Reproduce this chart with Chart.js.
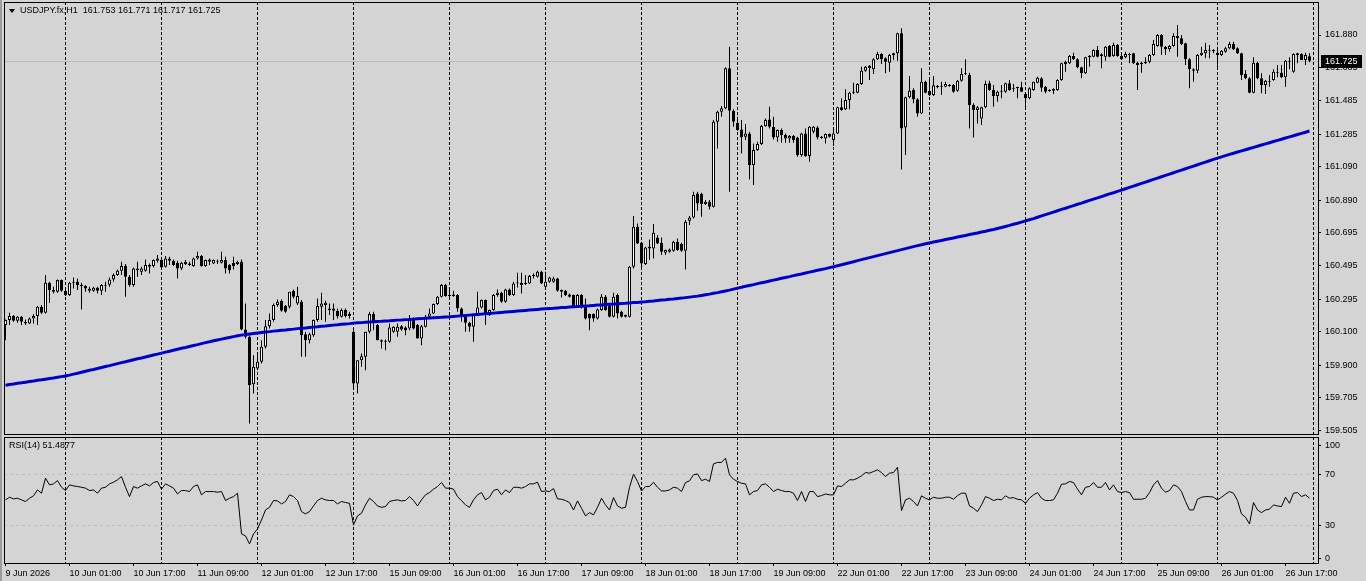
<!DOCTYPE html>
<html>
<head>
<meta charset="utf-8">
<script src="https://cdn.jsdelivr.net/npm/chart.js@4.4.1/dist/chart.umd.min.js"></script>
<style>
html, body { margin: 0; padding: 0; background: #d4d4d4; }
#wrap { position: relative; width: 1366px; height: 581px; overflow: hidden; }
canvas { position: absolute; left: 0; }
.lbl { position: absolute; font: 9px "Liberation Sans", Arial, sans-serif; color: #000; white-space: pre; line-height: 11px; }
#edge { position: absolute; left: 0; top: 0; width: 2px; height: 581px; background: #9c9c9c; }
#tri { position: absolute; left: 9px; top: 9px; width: 0; height: 0; border-left: 3px solid transparent; border-right: 3px solid transparent; border-top: 4px solid #000; }
</style>
</head>
<body>
<div id="wrap">
  <canvas id="price" width="1366" height="436" style="top:0"></canvas>
  <canvas id="rsi" width="1366" height="145" style="top:436px"></canvas>
  <div id="edge"></div>
  <div id="tri"></div>
  <div class="lbl" id="head" style="left:20px;top:5px"></div>
  <div class="lbl" id="rsiLabel" style="left:9px;top:440px"></div>
</div>
<script>
var symbol = 'USDJPY.fx,H1';
var dayNames = ['9 Jun', '10 Jun', '11 Jun', '12 Jun', '15 Jun', '16 Jun', '17 Jun', '18 Jun', '19 Jun', '22 Jun', '23 Jun', '24 Jun', '25 Jun', '26 Jun'];
var firstHour = 9;
var timeLabels = ['9 Jun 2026', '10 Jun 01:00', '10 Jun 17:00', '11 Jun 09:00', '12 Jun 01:00', '12 Jun 17:00', '15 Jun 09:00',
  '16 Jun 01:00', '16 Jun 17:00', '17 Jun 09:00', '18 Jun 01:00', '18 Jun 17:00', '19 Jun 09:00', '22 Jun 01:00',
  '22 Jun 17:00', '23 Jun 09:00', '24 Jun 01:00', '24 Jun 17:00', '25 Jun 09:00', '26 Jun 01:00', '26 Jun 17:00'];
var labelStep = 16;
var priceTicks = [161.880, 161.685, 161.485, 161.285, 161.090, 160.890, 160.695, 160.495, 160.295, 160.100, 159.900, 159.705, 159.505];
var rsiLevels = [0, 30, 70, 100];

var opens = [
160.140,160.170,160.194,160.166,160.190,160.160,160.150,160.180,160.194,160.250,
160.214,160.394,160.350,160.340,160.410,160.346,160.320,160.394,160.400,160.380,
160.374,160.360,160.346,160.364,160.346,160.376,160.382,160.414,160.440,160.466,
160.494,160.430,160.380,160.470,160.460,160.466,160.490,160.494,160.526,160.530,
160.490,160.540,160.526,160.514,160.480,160.506,160.510,160.494,160.540,160.554,
160.494,160.534,160.510,160.526,160.514,160.530,160.500,160.514,160.506,160.520,
160.114,160.070,159.786,159.880,159.920,160.010,160.134,160.170,160.260,160.284,
160.254,160.250,160.346,160.270,160.280,160.086,160.050,160.080,160.170,160.250,
160.260,160.240,160.240,160.224,160.190,160.230,160.206,160.100,159.790,159.930,
159.950,160.100,160.206,160.140,160.050,160.046,160.040,160.100,160.100,160.134,
160.126,160.120,160.180,160.140,160.060,160.130,160.190,160.210,160.266,160.310,
160.380,160.320,160.324,160.320,160.240,160.194,160.154,160.130,160.200,160.246,
160.290,160.200,160.230,160.320,160.334,160.280,160.354,160.320,160.390,160.394,
160.394,160.390,160.434,160.430,160.460,160.370,160.400,160.400,160.420,160.350,
160.346,160.324,160.320,160.254,160.320,160.254,160.206,160.206,160.180,160.230,
160.310,160.254,160.190,160.320,160.220,160.190,160.190,160.490,160.730,160.634,
160.506,160.600,160.600,160.666,160.634,160.574,160.580,160.586,160.640,160.626,
160.586,160.766,160.786,160.930,160.926,160.866,160.880,160.850,161.360,161.420,
161.440,161.680,161.426,161.354,161.314,161.270,161.290,161.100,161.190,161.226,
161.334,161.374,161.330,161.266,161.310,161.280,161.260,161.274,161.266,161.160,
161.290,161.154,161.300,161.326,161.262,161.260,161.286,161.250,161.290,161.446,
161.434,161.490,161.534,161.534,161.586,161.666,161.680,161.674,161.734,161.766,
161.740,161.714,161.760,161.770,161.890,161.326,161.506,161.550,161.494,161.410,
161.600,161.546,161.520,161.566,161.570,161.570,161.574,161.580,161.546,161.606,
161.646,161.640,161.460,161.430,161.380,161.446,161.590,161.550,161.514,161.540,
161.540,161.590,161.560,161.564,161.566,161.526,161.500,161.550,161.594,161.620,
161.570,161.546,161.546,161.550,161.610,161.706,161.710,161.754,161.734,161.686,
161.650,161.746,161.750,161.790,161.764,161.750,161.814,161.754,161.820,161.754,
161.746,161.766,161.770,161.714,161.714,161.710,161.720,161.760,161.814,161.880,
161.810,161.794,161.814,161.874,161.860,161.830,161.734,161.674,161.666,161.760,
161.770,161.786,161.786,161.774,161.760,161.780,161.800,161.826,161.800,161.770,
161.646,161.620,161.534,161.714,161.620,161.580,161.606,161.610,161.654,161.654,
161.626,161.720,161.660,161.760,161.766,161.730,161.753];

var highs = [
160.174,160.214,160.200,160.194,160.194,160.174,160.186,160.206,160.254,160.260,
160.440,160.400,160.370,160.414,160.414,160.360,160.400,160.426,160.420,160.394,
160.380,160.370,160.370,160.370,160.386,160.400,160.426,160.450,160.474,160.520,
160.506,160.440,160.486,160.520,160.490,160.534,160.510,160.534,160.560,160.540,
160.554,160.550,160.534,160.526,160.520,160.530,160.520,160.546,160.580,160.560,
160.534,160.540,160.534,160.534,160.580,160.550,160.506,160.550,160.526,160.534,
160.270,160.080,159.960,159.960,160.050,160.170,160.210,160.270,160.294,160.294,
160.260,160.340,160.354,160.370,160.290,160.100,160.094,160.174,160.300,160.334,
160.286,160.270,160.270,160.240,160.240,160.240,160.220,160.110,159.930,159.970,
160.100,160.220,160.220,160.146,160.054,160.054,160.150,160.134,160.150,160.140,
160.134,160.200,160.186,160.146,160.140,160.200,160.240,160.270,160.314,160.386,
160.386,160.350,160.346,160.326,160.246,160.200,160.160,160.206,160.340,160.294,
160.294,160.234,160.326,160.354,160.340,160.358,160.360,160.400,160.454,160.454,
160.440,160.440,160.450,160.466,160.466,160.460,160.430,160.430,160.424,160.354,
160.350,160.330,160.324,160.326,160.326,160.300,160.210,160.210,160.240,160.326,
160.320,160.260,160.334,160.330,160.226,160.204,160.494,160.794,160.750,160.640,
160.610,160.654,160.746,160.680,160.666,160.594,160.600,160.646,160.660,160.634,
160.770,160.794,160.940,160.940,160.934,160.890,160.890,161.370,161.426,161.454,
161.686,161.810,161.434,161.390,161.370,161.346,161.300,161.230,161.240,161.340,
161.380,161.450,161.390,161.314,161.320,161.290,161.280,161.280,161.270,161.294,
161.320,161.334,161.334,161.334,161.274,161.290,161.290,161.310,161.450,161.500,
161.554,161.540,161.594,161.590,161.690,161.694,161.700,161.740,161.780,161.770,
161.746,161.766,161.774,161.894,161.920,161.510,161.634,161.560,161.500,161.680,
161.606,161.626,161.634,161.580,161.600,161.600,161.586,161.586,161.610,161.680,
161.734,161.654,161.470,161.454,161.450,161.606,161.606,161.580,161.546,161.580,
161.594,161.610,161.586,161.570,161.600,161.534,161.566,161.600,161.630,161.626,
161.574,161.554,161.560,161.614,161.714,161.726,161.760,161.774,161.740,161.690,
161.750,161.760,161.794,161.814,161.770,161.814,161.820,161.834,161.826,161.760,
161.780,161.774,161.774,161.720,161.720,161.746,161.766,161.850,161.886,161.886,
161.814,161.820,161.890,161.940,161.880,161.834,161.740,161.680,161.766,161.810,
161.834,161.820,161.794,161.810,161.790,161.810,161.840,161.840,161.806,161.774,
161.670,161.626,161.746,161.720,161.650,161.610,161.640,161.674,161.700,161.700,
161.730,161.746,161.770,161.774,161.770,161.774,161.771];

var lows = [
160.050,160.140,160.160,160.154,160.140,160.140,160.146,160.150,160.140,160.206,
160.210,160.274,160.330,160.334,160.340,160.314,160.314,160.360,160.350,160.234,
160.340,160.334,160.340,160.330,160.320,160.340,160.370,160.400,160.434,160.440,
160.310,160.370,160.370,160.430,160.440,160.460,160.450,160.486,160.514,160.480,
160.486,160.500,160.494,160.420,160.470,160.500,160.494,160.490,160.534,160.490,
160.490,160.500,160.506,160.506,160.510,160.450,160.450,160.474,160.500,160.110,
160.060,159.550,159.730,159.870,159.910,160.000,160.120,160.160,160.250,160.220,
160.214,160.240,160.300,160.260,159.950,159.950,160.030,160.070,160.160,160.170,
160.160,160.200,160.170,160.180,160.186,160.186,160.180,159.760,159.730,159.890,
159.870,160.090,160.110,160.050,160.000,159.990,160.034,160.094,160.070,160.106,
160.080,160.110,160.114,160.060,160.020,160.126,160.186,160.206,160.260,160.306,
160.310,160.306,160.310,160.220,160.160,160.100,160.100,160.040,160.194,160.240,
160.140,160.194,160.226,160.310,160.274,160.274,160.314,160.314,160.366,160.330,
160.380,160.386,160.420,160.426,160.386,160.366,160.394,160.394,160.340,160.306,
160.314,160.306,160.250,160.250,160.240,160.174,160.110,160.160,160.174,160.226,
160.226,160.186,160.186,160.180,160.186,160.186,160.186,160.480,160.626,160.470,
160.500,160.530,160.540,160.626,160.560,160.560,160.574,160.580,160.586,160.580,
160.474,160.740,160.780,160.826,160.790,160.860,160.834,160.846,161.200,161.390,
161.434,160.940,161.330,161.306,161.170,161.250,161.014,160.980,161.186,161.220,
161.330,161.320,161.254,161.240,161.234,161.234,161.234,161.234,161.150,161.150,
161.150,161.120,161.290,161.254,161.258,161.230,161.266,161.214,161.286,161.426,
161.430,161.434,161.526,161.530,161.580,161.660,161.610,161.646,161.730,161.706,
161.650,161.660,161.730,161.726,161.074,161.160,161.500,161.470,161.390,161.406,
161.530,161.514,161.514,161.560,161.520,161.566,161.570,161.534,161.540,161.600,
161.640,161.320,161.266,161.350,161.340,161.440,161.546,161.450,161.480,161.500,
161.534,161.546,161.540,161.500,161.540,161.446,161.494,161.546,161.590,161.540,
161.530,161.540,161.526,161.546,161.606,161.660,161.706,161.730,161.680,161.620,
161.646,161.690,161.746,161.746,161.680,161.726,161.746,161.750,161.750,161.730,
161.740,161.710,161.706,161.550,161.654,161.706,161.710,161.754,161.810,161.760,
161.760,161.780,161.810,161.750,161.820,161.700,161.560,161.600,161.650,161.754,
161.740,161.740,161.770,161.670,161.754,161.774,161.794,161.790,161.766,161.610,
161.614,161.530,161.530,161.614,161.530,161.526,161.570,161.606,161.626,161.620,
161.570,161.674,161.654,161.710,161.730,161.700,161.717];

var closes = [
160.170,160.194,160.166,160.190,160.160,160.150,160.180,160.194,160.250,160.214,
160.394,160.350,160.340,160.410,160.346,160.320,160.394,160.400,160.380,160.374,
160.360,160.346,160.364,160.346,160.380,160.382,160.414,160.440,160.466,160.494,
160.430,160.380,160.480,160.480,160.480,160.500,160.500,160.530,160.540,160.486,
160.540,160.526,160.500,160.480,160.514,160.520,160.500,160.540,160.554,160.494,
160.530,160.520,160.530,160.520,160.530,160.480,160.470,160.494,160.520,160.114,
160.070,159.780,159.890,159.920,160.010,160.134,160.170,160.260,160.280,160.226,
160.220,160.340,160.310,160.314,160.080,160.050,160.086,160.170,160.254,160.270,
160.274,160.230,160.226,160.194,160.230,160.194,160.194,159.790,159.930,159.954,
160.100,160.206,160.154,160.050,160.040,160.040,160.126,160.130,160.130,160.114,
160.110,160.180,160.120,160.060,160.134,160.190,160.210,160.266,160.310,160.380,
160.314,160.314,160.314,160.240,160.190,160.154,160.130,160.200,160.246,160.290,
160.200,160.230,160.320,160.334,160.280,160.354,160.320,160.390,160.394,160.380,
160.386,160.434,160.434,160.460,160.390,160.400,160.426,160.420,160.346,160.340,
160.320,160.310,160.254,160.320,160.250,160.180,160.180,160.180,160.234,160.310,
160.230,160.190,160.310,160.210,160.190,160.200,160.490,160.730,160.630,160.510,
160.606,160.610,160.694,160.630,160.580,160.590,160.594,160.640,160.590,160.586,
160.760,160.786,160.920,160.870,160.866,160.880,160.850,161.360,161.420,161.440,
161.680,161.426,161.360,161.310,161.266,161.290,161.100,161.190,161.226,161.334,
161.370,161.330,161.266,161.310,161.280,161.260,161.274,161.250,161.160,161.290,
161.154,161.330,161.330,161.266,161.270,161.286,161.270,161.290,161.446,161.430,
161.490,161.534,161.534,161.586,161.666,161.690,161.694,161.734,161.766,161.734,
161.720,161.760,161.770,161.890,161.320,161.506,161.546,161.494,161.410,161.600,
161.534,161.520,161.578,161.574,161.570,161.586,161.580,161.540,161.606,161.646,
161.644,161.460,161.430,161.446,161.446,161.586,161.550,161.514,161.540,161.546,
161.590,161.550,161.554,161.562,161.540,161.500,161.560,161.600,161.624,161.564,
161.540,161.544,161.556,161.610,161.710,161.720,161.754,161.734,161.686,161.650,
161.746,161.754,161.790,161.750,161.754,161.810,161.750,161.820,161.754,161.734,
161.766,161.760,161.710,161.700,161.706,161.720,161.760,161.826,161.880,161.810,
161.794,161.814,161.874,161.860,161.826,161.734,161.674,161.666,161.760,161.774,
161.790,161.788,161.784,161.760,161.786,161.800,161.826,161.794,161.770,161.640,
161.620,161.534,161.714,161.620,161.580,161.606,161.600,161.660,161.660,161.626,
161.726,161.726,161.766,161.770,161.730,161.760,161.725];

var ma = [
159.780,159.784,159.787,159.791,159.794,159.798,159.802,159.805,159.809,159.812,159.816,159.820,159.823,159.827,159.831,159.835,
159.840,159.846,159.851,159.857,159.863,159.869,159.874,159.880,159.886,159.892,159.897,159.903,159.909,159.915,159.920,159.926,
159.932,159.938,159.943,159.949,159.955,159.961,159.966,159.972,
159.978,159.983,159.989,159.995,160.001,160.006,160.012,160.018,160.023,160.029,160.035,160.040,160.046,160.051,160.056,160.061,
160.066,160.071,160.076,160.080,
160.084,160.087,160.090,160.093,160.096,160.099,160.101,160.104,160.106,160.109,160.111,160.114,160.116,160.119,160.121,160.123,
160.126,160.128,160.130,160.133,160.135,160.138,160.140,160.142,160.145,160.147,160.149,160.152,
160.154,160.155,160.157,160.158,160.160,160.162,160.163,160.165,160.166,160.168,160.170,160.171,160.173,160.174,160.176,160.178,
160.179,160.181,160.182,160.184,160.186,160.187,160.189,160.190,
160.192,160.194,160.196,160.198,160.200,160.202,160.204,160.206,160.208,160.210,160.212,160.214,160.216,160.218,160.220,160.222,
160.224,160.226,160.228,160.230,160.232,160.234,160.236,160.238,
160.240,160.241,160.243,160.245,160.246,160.248,160.250,160.251,160.253,160.255,160.256,160.258,160.260,160.261,160.263,160.265,
160.266,160.268,160.270,160.271,160.273,160.275,160.276,160.278,
160.280,160.283,160.285,160.288,160.290,160.292,160.295,160.297,160.300,160.302,160.305,160.308,160.311,160.314,160.318,
160.322,160.326,160.331,160.335,160.340,160.345,160.350,160.356,160.362,
160.367,160.373,160.378,160.383,160.389,160.394,160.399,160.405,160.410,160.415,160.421,160.426,160.431,160.437,160.442,160.447,
160.453,160.458,160.463,160.469,160.474,160.479,160.485,160.490,
160.496,160.502,160.508,160.514,160.520,160.527,160.533,160.539,160.545,160.551,160.557,160.563,160.569,160.575,160.581,160.587,
160.593,160.599,160.605,160.611,160.617,160.622,160.628,160.633,
160.638,160.643,160.648,160.653,160.658,160.663,160.668,160.673,160.678,160.683,160.688,160.693,160.698,160.703,160.709,160.714,
160.720,160.726,160.732,160.738,160.745,160.751,160.758,160.765,
160.772,160.779,160.787,160.795,160.803,160.810,160.818,160.826,160.834,160.841,160.849,160.857,160.865,160.872,160.880,160.888,
160.896,160.903,160.911,160.919,160.927,160.934,160.942,160.950,
160.958,160.966,160.974,160.982,160.990,160.998,161.006,161.014,161.022,161.030,161.038,161.046,161.054,161.062,161.070,161.078,
161.086,161.094,161.102,161.110,161.118,161.126,161.134,161.142,
161.149,161.157,161.164,161.171,161.178,161.185,161.192,161.199,161.206,161.213,161.220,161.227,161.234,161.241,161.248,161.255,
161.262,161.269,161.276,161.283,161.290,161.297,161.304];

var rsi = [
50.1,52.2,50.9,51.4,50.1,48.8,51.4,53.3,58.0,55.4,
67.3,62.0,62.8,65.4,60.1,57.5,62.0,61.2,60.7,60.1,
59.4,57.5,58.0,55.4,59.4,60.1,62.8,64.1,66.0,68.6,
60.1,52.7,60.7,59.4,61.2,62.8,61.2,63.9,64.7,58.6,
62.8,61.2,59.4,54.8,57.5,57.5,56.7,60.7,62.0,54.1,
56.7,56.7,56.7,56.2,56.7,49.6,51.4,52.7,55.4,23.1,
21.5,15.1,23.1,27.0,34.2,42.1,44.2,49.6,49.3,46.9,
48.8,54.1,52.7,49.6,40.8,39.0,40.8,45.3,49.6,51.4,
50.1,49.6,49.6,46.9,48.8,48.0,47.4,30.2,37.4,39.5,
46.1,51.4,48.8,45.3,44.2,44.8,48.8,49.6,50.1,49.3,
49.6,52.7,49.6,45.3,50.1,54.1,55.9,58.6,60.7,63.9,
59.4,59.4,58.6,52.7,49.6,46.1,44.2,50.1,54.1,55.9,
50.1,52.2,57.5,58.6,54.1,58.0,55.9,60.1,60.1,59.4,
60.7,62.8,62.8,64.1,56.7,57.2,56.7,59.1,50.9,50.6,
49.6,48.0,42.1,49.3,43.5,37.4,40.0,38.2,44.2,51.4,
46.1,42.1,51.9,45.3,43.5,44.2,60.1,70.5,64.7,57.2,
60.7,60.7,64.1,60.1,57.2,57.2,58.0,60.1,59.4,56.7,
63.9,65.2,70.0,70.7,65.4,66.5,64.7,78.7,79.8,79.8,
83.2,70.0,66.5,64.7,63.3,62.8,54.1,56.7,57.5,62.0,
62.8,60.1,56.7,58.6,57.5,56.7,56.7,55.4,49.6,56.7,
48.8,56.7,56.7,52.7,53.5,54.8,54.1,54.1,61.2,60.7,
63.3,66.0,66.0,67.3,69.2,71.8,71.3,72.6,73.9,71.8,
68.6,71.3,71.8,76.0,41.6,50.1,51.4,48.8,45.3,53.3,
51.4,50.1,52.2,51.4,51.4,52.2,52.2,50.6,53.5,55.4,
55.4,45.3,43.5,40.8,46.1,52.7,51.4,49.6,50.6,50.1,
53.3,51.4,51.9,50.6,50.1,47.4,51.4,54.1,55.9,51.4,
49.6,49.6,50.1,55.4,62.5,62.8,64.7,63.9,58.6,54.1,
60.1,60.7,63.9,60.1,60.1,63.9,58.0,62.0,56.7,55.9,
56.7,55.9,50.6,50.6,50.6,51.4,55.9,62.0,65.4,59.4,
56.2,57.5,62.0,60.7,56.7,48.8,42.1,42.1,50.6,52.2,
52.7,52.7,52.2,50.1,52.2,54.6,56.7,55.4,49.6,39.0,
36.3,31.0,48.0,42.1,40.0,42.1,42.7,46.1,45.3,44.8,
52.2,47.4,55.4,55.9,52.7,54.1,51.4877];

// bar index of each new trading day (incl. the one after the last bar)
var dayStarts = [];
var n = 24 - firstHour;
for (var k = 1; k <= dayNames.length; k++) { dayStarts.push(n); n += 24; }

var last = closes.length - 1;
document.getElementById('head').textContent = symbol + '  ' + opens[last].toFixed(3) + ' ' + highs[last].toFixed(3) + ' ' +
  lows[last].toFixed(3) + ' ' + closes[last].toFixed(3);
document.getElementById('rsiLabel').textContent = 'RSI(14) ' + rsi[last];

var axisFont = { family: '"Liberation Sans", Arial, sans-serif', size: 9 };
var xMin = -0.375, xMax = 328.125;
var sepColor = '#000';

// keep Chart.js from reserving room for half labels at the scale ends
function noPad(s) { s.paddingTop = 0; s.paddingBottom = 0; s.paddingLeft = 0; s.paddingRight = 0; }

var framePlugin = {
  id: 'frame',
  afterDraw: function (chart) {
    var a = chart.chartArea, c = chart.ctx;
    c.save();
    c.strokeStyle = '#000';
    c.lineWidth = 1;
    c.strokeRect(a.left + 0.5, a.top + 0.5, a.right - a.left, a.bottom - a.top);
    c.restore();
  }
};

var bidPlugin = {
  id: 'bid',
  beforeDatasetsDraw: function (chart) {
    var a = chart.chartArea, c = chart.ctx;
    var y = Math.round(chart.scales.y.getPixelForValue(closes[last])) + 0.5;
    c.save();
    c.strokeStyle = '#bababa';
    c.lineWidth = 1;
    c.beginPath(); c.moveTo(a.left, y); c.lineTo(a.right, y); c.stroke();
    c.restore();
  },
  afterDraw: function (chart) {
    var a = chart.chartArea, c = chart.ctx;
    var y = Math.round(chart.scales.y.getPixelForValue(closes[last]));
    c.save();
    c.fillStyle = '#000';
    c.fillRect(a.right + 3, y - 6, 41, 13);
    c.fillStyle = '#fff';
    c.font = '9px "Liberation Sans", Arial, sans-serif';
    c.textBaseline = 'middle';
    c.fillText(closes[last].toFixed(3), a.right + 7, y + 1);
    c.restore();
  }
};

var pts = function (arr) { return arr.map(function (v, i) { return { x: i, y: v }; }); };

new Chart(document.getElementById('price').getContext('2d'), {
  type: 'bar',
  data: {
    datasets: [{
      type: 'line',
      label: 'MA',
      data: pts(ma),
      borderColor: '#0000cd',
      borderWidth: 3,
      pointRadius: 0,
      tension: 0,
      order: 0
    }, {
      label: 'body',
      data: opens.map(function (o, i) { return { x: i, y: [o, closes[i]] }; }),
      backgroundColor: function (c) { return closes[c.dataIndex] >= opens[c.dataIndex] ? '#fff' : '#000'; },
      borderColor: '#000',
      borderWidth: 1,
      borderSkipped: false,
      inflateAmount: 0,
      minBarLength: 1,
      grouped: false,
      categoryPercentage: 1,
      barPercentage: 0.75,
      order: 1
    }, {
      label: 'wick',
      data: lows.map(function (l, i) { return { x: i, y: [l, highs[i]] }; }),
      backgroundColor: '#000',
      borderWidth: 0,
      inflateAmount: 0,
      grouped: false,
      categoryPercentage: 1,
      barPercentage: 0.25,
      order: 2
    }]
  },
  options: {
    responsive: false,
    animation: false,
    devicePixelRatio: 1,
    events: [],
    layout: { padding: { left: 4, top: 2, right: 0, bottom: 2 } },
    plugins: { legend: { display: false }, tooltip: { enabled: false } },
    scales: {
      x: {
        type: 'linear', min: xMin, max: xMax, bounds: 'data', offset: false,
        afterBuildTicks: function (s) { s.ticks = dayStarts.map(function (v) { return { value: v }; }); },
        ticks: { display: false },
        grid: { offset: false, color: sepColor, lineWidth: 1, drawTicks: false },
        border: { display: false, dash: [3, 2] },
        afterFit: function (s) { s.height = 0; noPad(s); }
      },
      y: {
        position: 'right', min: 159.487, max: 162.078, bounds: 'data',
        afterBuildTicks: function (s) { s.ticks = priceTicks.map(function (v) { return { value: v }; }); },
        ticks: { font: axisFont, color: '#000', padding: 4, callback: function (v) { return v.toFixed(3); } },
        grid: { color: 'transparent', drawTicks: true, tickLength: 3, tickColor: '#000' },
        border: { display: false },
        afterFit: function (s) { s.width = 48; noPad(s); }
      }
    }
  },
  plugins: [bidPlugin, framePlugin]
});

var xTicks = dayStarts.slice();
timeLabels.forEach(function (t, j) { xTicks.push(j * labelStep); });
xTicks.sort(function (a, b) { return a - b; });
var isLabelTick = function (v) { return v % labelStep === 0 && v / labelStep < timeLabels.length; };
// the 0 and 100 labels sit just inside the panel, as in the terminal
var topInset = 6.5, bottomInset = 3.5;

new Chart(document.getElementById('rsi').getContext('2d'), {
  type: 'line',
  data: {
    datasets: [{
      label: 'RSI(14)',
      data: pts(rsi),
      borderColor: '#000',
      borderWidth: 1,
      pointRadius: 0,
      tension: 0
    }]
  },
  options: {
    responsive: false,
    animation: false,
    devicePixelRatio: 1,
    events: [],
    layout: { padding: { left: 4, top: 1, right: 0, bottom: 0 } },
    plugins: { legend: { display: false }, tooltip: { enabled: false } },
    scales: {
      x: {
        type: 'linear', min: xMin, max: xMax, bounds: 'data', offset: false,
        afterBuildTicks: function (s) { s.ticks = xTicks.map(function (v) { return { value: v }; }); },
        ticks: {
          autoSkip: false, maxRotation: 0, align: 'start', font: axisFont, color: '#000', padding: 2,
          callback: function (v) { return isLabelTick(v) ? timeLabels[v / labelStep] : ''; }
        },
        grid: {
          offset: false, lineWidth: 1, drawTicks: true, tickLength: 3,
          color: function (c) { return dayStarts.indexOf(c.tick.value) >= 0 ? sepColor : 'transparent'; },
          tickColor: function (c) { return isLabelTick(c.tick.value) ? '#000' : 'transparent'; }
        },
        border: { display: false, dash: [3, 2] },
        afterFit: function (s) { s.height = 18; noPad(s); }
      },
      y: {
        position: 'right', min: 0, max: 100, bounds: 'data',
        afterBuildTicks: function (s) {
          s.ticks = rsiLevels.map(function (v) {
            return { value: v === 0 ? v + bottomInset : (v === 100 ? v - topInset : v) };
          });
        },
        ticks: { font: axisFont, color: '#000', padding: 4, callback: function (v, i) { return String(rsiLevels[i]); } },
        grid: {
          drawTicks: true, tickLength: 3, tickColor: '#000',
          color: function (c) { return (c.tick.value === 30 || c.tick.value === 70) ? '#bcbcbc' : 'transparent'; }
        },
        border: { display: false, dash: [3, 3] },
        afterFit: function (s) { s.width = 48; noPad(s); }
      }
    }
  },
  plugins: [framePlugin]
});
</script>
</body>
</html>
